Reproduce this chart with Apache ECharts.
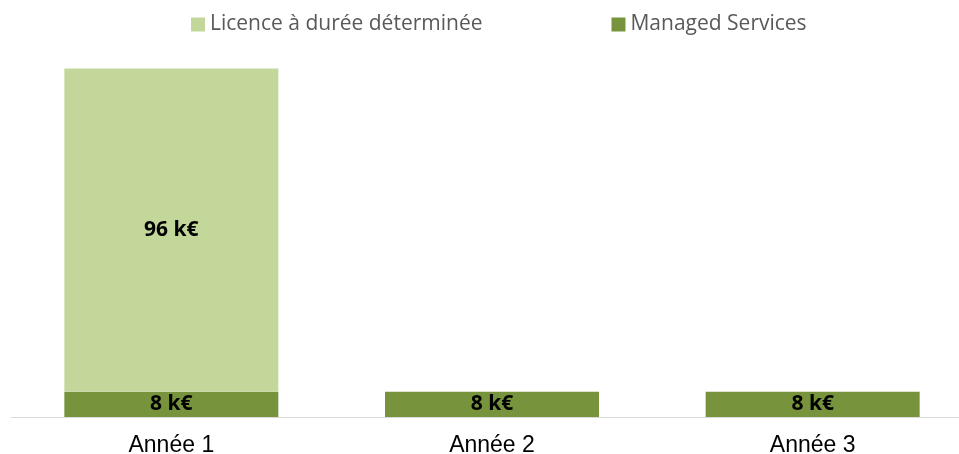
<!DOCTYPE html>
<html>
<head>
<meta charset="utf-8">
<script src="https://cdn.jsdelivr.net/npm/echarts@6/dist/echarts.min.js"></script>
<style>
	html, body { margin: 0; padding: 0; background: #fff; }
	#main { width: 959px; height: 454px; }
</style>
</head>
<body>
<div id="main"></div>
<script>
var categories = ['Année 1', 'Année 2', 'Année 3'];
var seriesNames = ['Licence à durée déterminée', 'Managed Services'];
// valeurs en k€ (étiquettes arrondies)
var managedValues = [7.5, 7.5, 7.5];
var licenceValues = [96.4, 0, 0];

var myChart = echarts.init(document.getElementById('main'));

function labelK(p) {
	if (!p.value) { return ''; }
	return Math.round(p.value) + ' k€';
}

var barLabel = {
	show: true,
	position: 'inside',
	formatter: labelK,
	color: '#000',
	fontFamily: 'Open Sans',
	fontWeight: 'bold',
	fontSize: 21
};

var option = {
	animation: false,
	backgroundColor: '#fff',
	legend: {
		data: [seriesNames[0], seriesNames[1]],
		left: 186,
		top: 9,
		icon: 'rect',
		itemWidth: 14,
		itemHeight: 14,
		itemGap: 129,
		textStyle: {
			color: '#595959',
			fontFamily: 'Open Sans',
			fontSize: 21
		}
	},
	grid: {
		left: 11,
		top: 48,
		right: -14,
		bottom: 37,
		outerBoundsMode: 'none'
	},
	xAxis: {
		type: 'category',
		data: categories,
		axisLine: { lineStyle: { color: '#d9d9d9', width: 1 } },
		axisTick: { show: false },
		axisLabel: {
			color: '#000',
			fontFamily: 'Liberation Sans',
			fontSize: 23,
			margin: 17
		}
	},
	yAxis: {
		type: 'value',
		min: 0,
		max: 110,
		show: false,
		splitLine: { show: false }
	},
	series: [
		{
			name: seriesNames[1],
			type: 'bar',
			stack: 'total',
			barWidth: 214,
			data: managedValues,
			itemStyle: { color: '#77933c' },
			label: barLabel
		},
		{
			name: seriesNames[0],
			type: 'bar',
			stack: 'total',
			barWidth: 214,
			data: licenceValues,
			itemStyle: { color: '#c4d79b' },
			label: barLabel
		}
	]
};
myChart.setOption(option);
</script>
</body>
</html>
